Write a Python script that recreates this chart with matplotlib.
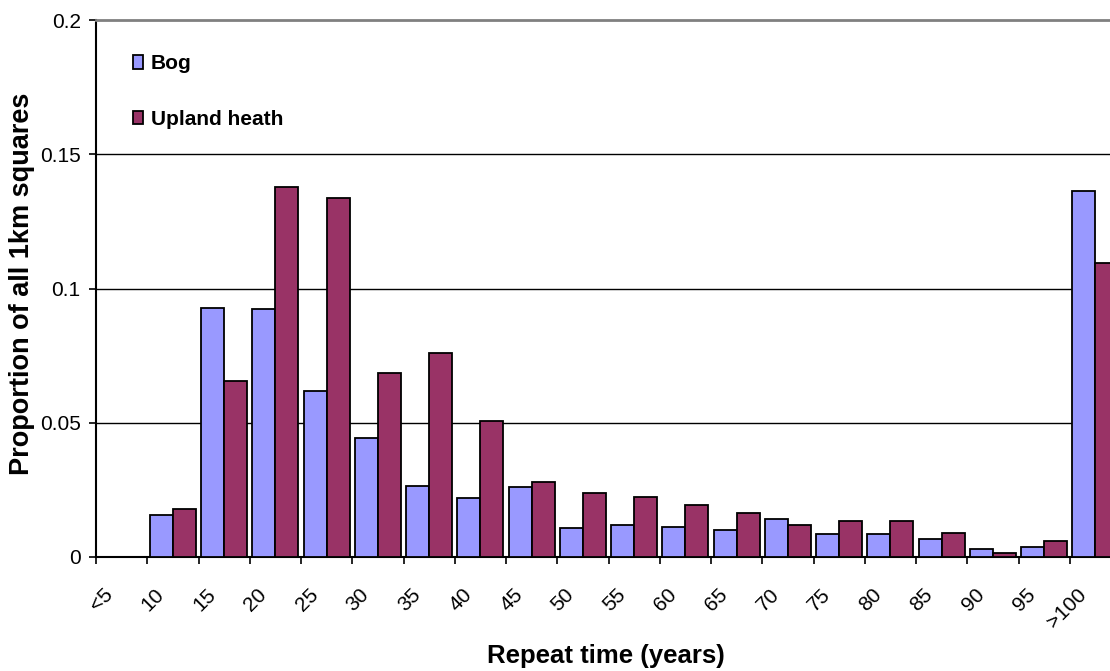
import numpy as np
import matplotlib
matplotlib.use("Agg")
import matplotlib.pyplot as plt
import matplotlib.transforms as mtransforms

plt.rcParams['font.family'] = ['Liberation Sans', 'DejaVu Sans']

# Datos
categories = ['<5', '10', '15', '20', '25', '30', '35', '40', '45', '50',
              '55', '60', '65', '70', '75', '80', '85', '90', '95', '>100']
bog = [0.0, 0.0155, 0.0929, 0.0922, 0.0617, 0.0445, 0.0266, 0.0221, 0.0259, 0.0109,
       0.0118, 0.0110, 0.0099, 0.0142, 0.0087, 0.0087, 0.0067, 0.0028, 0.0037, 0.1363]
upland = [0.0, 0.0177, 0.0654, 0.1377, 0.1336, 0.0687, 0.0761, 0.0505, 0.0281, 0.0239,
          0.0224, 0.0194, 0.0164, 0.0118, 0.0134, 0.0134, 0.0090, 0.0014, 0.0060, 0.1096]
yticks = [0, 0.05, 0.1, 0.15, 0.2]
ytick_labels = ['0', '0.05', '0.1', '0.15', '0.2']

fig = plt.figure(figsize=(11.1, 6.71), dpi=100)
ax = fig.add_axes([96 / 1110, 114 / 671, 1025 / 1110, 537 / 671])

x = np.arange(len(categories))
bw = 0.45
ax.bar(x + 0.05, bog, width=bw, align='edge', color='#9999FF',
       edgecolor='black', linewidth=1.3, label='Bog', zorder=3)
ax.bar(x + 0.05 + bw, upland, width=bw, align='edge', color='#993366',
       edgecolor='black', linewidth=1.3, label='Upland heath', zorder=3)

ax.set_xlim(0, len(categories))
ax.set_ylim(0, 0.2)

# cuadricula horizontal
for yv in yticks[1:-1]:
    ax.axhline(yv, color='black', linewidth=1, zorder=1)

ax.set_yticks(yticks)
ax.set_yticklabels(ytick_labels, fontsize=15)
ax.set_xticks(x)
ax.set_xticklabels(categories, fontsize=15, rotation=45, ha='right',
                   va='center', rotation_mode='anchor')
ax.tick_params(axis='both', direction='out', length=5, width=1.2, color='black')
ax.tick_params(axis='y', pad=6)
ax.tick_params(axis='x', pad=20)

offset = mtransforms.ScaledTranslation(14 / 100, 0, fig.dpi_scale_trans)
for lab in ax.get_xticklabels():
    lab.set_transform(lab.get_transform() + offset)

ax.spines['top'].set_color('#808080')
ax.spines['top'].set_linewidth(2)
ax.spines['right'].set_visible(False)
ax.spines['left'].set_linewidth(1.5)
ax.spines['bottom'].set_linewidth(1.5)

fig.text(22 / 1110, 1 - 284 / 671, 'Proportion of all 1km squares', rotation=90,
         ha='center', va='center', fontsize=19.5, fontweight='bold')
fig.text(606 / 1110, 1 - 656 / 671, 'Repeat time (years)',
         ha='center', va='center', fontsize=18.5, fontweight='bold')

leg = ax.legend(loc='upper left', bbox_to_anchor=(29 / 1025, 1 - 26 / 537),
                frameon=False, fontsize=15, handlelength=0.45, handleheight=0.65,
                handletextpad=0.4, labelspacing=1.75, borderaxespad=0)
for t in leg.get_texts():
    t.set_fontweight('bold')

fig.savefig('out.png', dpi=100)
